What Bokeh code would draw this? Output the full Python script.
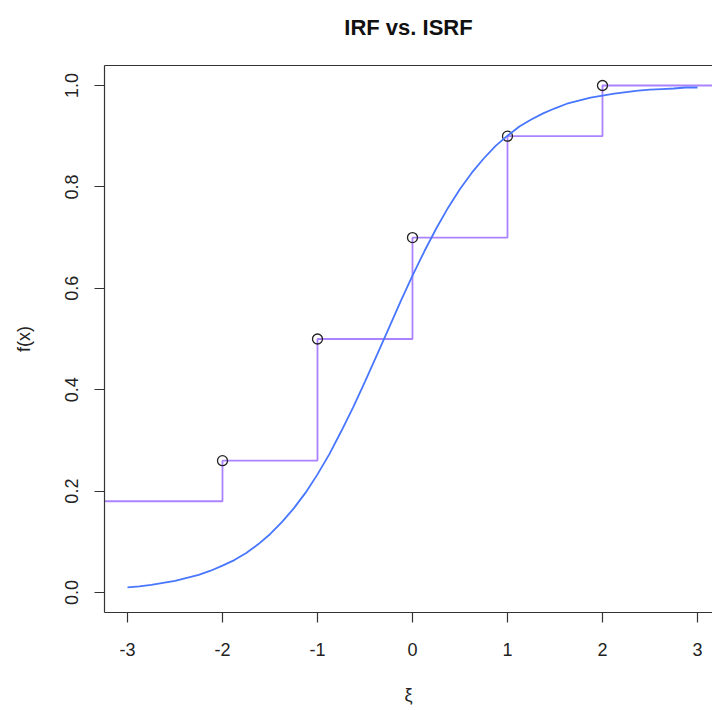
from bokeh.plotting import figure
from bokeh.models import Range1d, FixedTicker, LinearAxis
from bokeh.embed import file_html
from bokeh.resources import INLINE

# ---- data ----
# ISRF: step function (item-level points) and its level to the left of the first step
step_points_x = [-2, -1, 0, 1, 2]
step_points_y = [0.26, 0.50, 0.70, 0.90, 1.00]
step_left_level = 0.18
step_domain = [-4.0, 4.0]

# IRF: smooth curve
irf_x = [-3.0, -2.875, -2.75, -2.625, -2.5, -2.375, -2.25, -2.125, -2.0, -1.875, -1.75, -1.625,
         -1.5, -1.375, -1.25, -1.125, -1.0, -0.875, -0.75, -0.625, -0.5, -0.375, -0.25, -0.125,
         0.0, 0.125, 0.25, 0.375, 0.5, 0.625, 0.75, 0.875, 1.0, 1.125, 1.25, 1.375, 1.5, 1.625,
         1.75, 1.875, 2.0, 2.125, 2.25, 2.375, 2.5, 2.625, 2.75, 2.875, 3.0]
irf_y = [0.010, 0.012, 0.015, 0.019, 0.023, 0.029, 0.035, 0.043, 0.053, 0.064, 0.078, 0.095,
         0.115, 0.139, 0.166, 0.197, 0.233, 0.273, 0.318, 0.365, 0.416, 0.468, 0.521, 0.574,
         0.625, 0.673, 0.718, 0.759, 0.796, 0.828, 0.856, 0.881, 0.901, 0.919, 0.933, 0.945,
         0.955, 0.964, 0.970, 0.976, 0.980, 0.984, 0.987, 0.990, 0.992, 0.993, 0.994, 0.996, 0.996]

x_ticks = [-3, -2, -1, 0, 1, 2, 3]
y_ticks = [0.0, 0.2, 0.4, 0.6, 0.8, 1.0]
title_text = "IRF vs. ISRF"

FONT = "Liberation Sans"
AXIS_COL = "#333333"

p = figure(width=712, height=710, output_backend="svg", toolbar_location=None,
           x_range=Range1d(-3.242, 3.158), y_range=Range1d(-0.0394, 1.0394),
           min_border_left=104, min_border_right=0, min_border_top=65, min_border_bottom=98,
           background_fill_color="white", border_fill_color="white")
p.outline_line_color = None
p.xgrid.visible = False
p.ygrid.visible = False

# axes
for ax in (p.xaxis[0], p.yaxis[0]):
    ax.axis_line_color = AXIS_COL
    ax.axis_line_width = 1.2
    ax.major_tick_line_color = AXIS_COL
    ax.major_tick_line_width = 1.2
    ax.major_tick_out = 10
    ax.major_tick_in = 0
    ax.minor_tick_line_color = None
    ax.major_label_text_font = FONT
    ax.major_label_text_font_size = "18px"
    ax.major_label_text_color = "#222222"
    ax.axis_label_text_font = FONT
    ax.axis_label_text_font_size = "18px"
    ax.axis_label_text_font_style = "normal"
    ax.axis_label_text_color = "#222222"

p.xaxis[0].ticker = FixedTicker(ticks=x_ticks)
p.xaxis[0].major_label_overrides = {t: str(t) for t in x_ticks}
p.xaxis[0].major_label_standoff = 20
p.xaxis[0].axis_label = "ξ"
p.xaxis[0].axis_label_standoff = 26

p.yaxis[0].ticker = FixedTicker(ticks=y_ticks)
p.yaxis[0].major_label_overrides = {t: f"{t:.1f}" for t in y_ticks}
p.yaxis[0].major_label_orientation = "vertical"
p.yaxis[0].major_label_standoff = 16
p.yaxis[0].axis_label = "f(x)"
p.yaxis[0].axis_label_standoff = 29

# top border of the box, carrying the main title (R-style, centred over the plot)
top = LinearAxis(ticker=FixedTicker(ticks=[]), axis_line_color=AXIS_COL, axis_line_width=1.2,
                 major_tick_line_color=None, minor_tick_line_color=None,
                 major_label_text_font_size="0px",
                 axis_label=title_text, axis_label_standoff=26,
                 axis_label_text_font=FONT, axis_label_text_font_size="22px",
                 axis_label_text_font_style="bold", axis_label_text_color="#111111")
p.add_layout(top, "above")

# ISRF step function
sx = [step_domain[0]] + step_points_x + [step_domain[1]]
sy = [step_left_level] + step_points_y + [step_points_y[-1]]
p.step(sx, sy, mode="after", line_color="#AB82FF", line_width=1.8)

# points
p.scatter(step_points_x, step_points_y, size=10, marker="circle",
          fill_color=None, line_color="#222222", line_width=1.3)

# IRF curve
p.line(irf_x, irf_y, line_color="#4876FF", line_width=1.8)

open("out.html", "w").write(file_html(p, INLINE))
